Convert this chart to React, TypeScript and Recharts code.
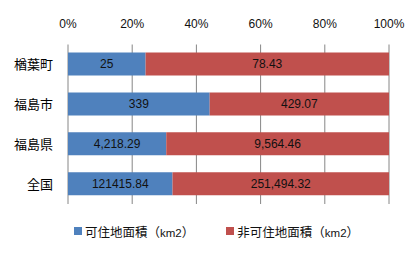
import React from 'react';
import { BarChart, Bar, XAxis, YAxis, CartesianGrid, Legend, LabelList } from 'recharts';

const categories = ['楢葉町', '福島市', '福島県', '全国'];
const habitable = [25, 339, 4218.29, 121415.84];
const nonHabitable = [78.43, 429.07, 9564.46, 251494.32];
// labels as printed on the bars
const habitableLabels = ['25', '339', '4,218.29', '121415.84'];
const nonHabitableLabels = ['78.43', '429.07', '9,564.46', '251,494.32'];
const pctTicks = [0, 0.2, 0.4, 0.6, 0.8, 1];

const BLUE = '#4F81BD';
const RED = '#C0504D';
const FONT = '"Liberation Sans", "Noto Sans CJK JP", sans-serif';
const CJK = '"Noto Sans CJK JP", sans-serif';

const data = categories.map((name, i) => ({
  name,
  a: habitable[i],
  b: nonHabitable[i],
  aLabel: habitableLabels[i],
  bLabel: nonHabitableLabels[i],
}));

const legendItems = [
  { text: '可住地面積', color: BLUE },
  { text: '非可住地面積', color: RED },
];

const renderLegend = () => (
  <div style={{ display: 'flex', justifyContent: 'flex-start', paddingTop: 17, height: 20, paddingLeft: 74 }}>
    {legendItems.map((it, i) => (
      <div key={i} style={{ display: 'flex', alignItems: 'center', marginRight: i === 0 ? 32 : 0 }}>
        <span style={{ width: 8, height: 8, background: it.color, display: 'inline-block', marginRight: 3 }} />
        <span style={{ fontFamily: CJK, fontSize: 12.5, color: '#111' }}>
          {it.text}（<span style={{ fontFamily: FONT, fontSize: 11.5 }}>km2</span>）
        </span>
      </div>
    ))}
  </div>
);

export default function App() {
  return (
    <div style={{ position: 'absolute', left: 0, top: 0, width: 420, height: 253, background: '#fff' }}>
      <BarChart
        width={420}
        height={253}
        data={data}
        layout="vertical"
        stackOffset="expand"
        barSize={23}
        margin={{ top: 0, right: 31, bottom: 12, left: 0 }}
      >
        <CartesianGrid horizontal={false} stroke="#868686" />
        <XAxis
          type="number"
          orientation="top"
          domain={[0, 1]}
          ticks={pctTicks}
          height={44.5}
          tickFormatter={(v: number) => `${Math.round(v * 100)}%`}
          axisLine={false}
          tickLine={false}
          tickSize={0}
          tickMargin={17}
          tick={{ fontSize: 12, fill: '#111', fontFamily: FONT }}
          interval={0}
        />
        <YAxis
          type="category"
          dataKey="name"
          width={68}
          axisLine={false}
          tickLine={false}
          tickSize={0}
          tickMargin={15}
          tick={{ fontSize: 13, fill: '#000', fontFamily: CJK }}
        />
        <Legend verticalAlign="bottom" content={renderLegend} />
        <Bar dataKey="a" stackId="s" fill={BLUE} isAnimationActive={false}>
          <LabelList dataKey="aLabel" position="center" style={{ fontSize: 12, fill: '#111', fontFamily: FONT }} />
        </Bar>
        <Bar dataKey="b" stackId="s" fill={RED} isAnimationActive={false}>
          <LabelList dataKey="bLabel" position="center" style={{ fontSize: 12, fill: '#111', fontFamily: FONT }} />
        </Bar>
      </BarChart>
    </div>
  );
}
